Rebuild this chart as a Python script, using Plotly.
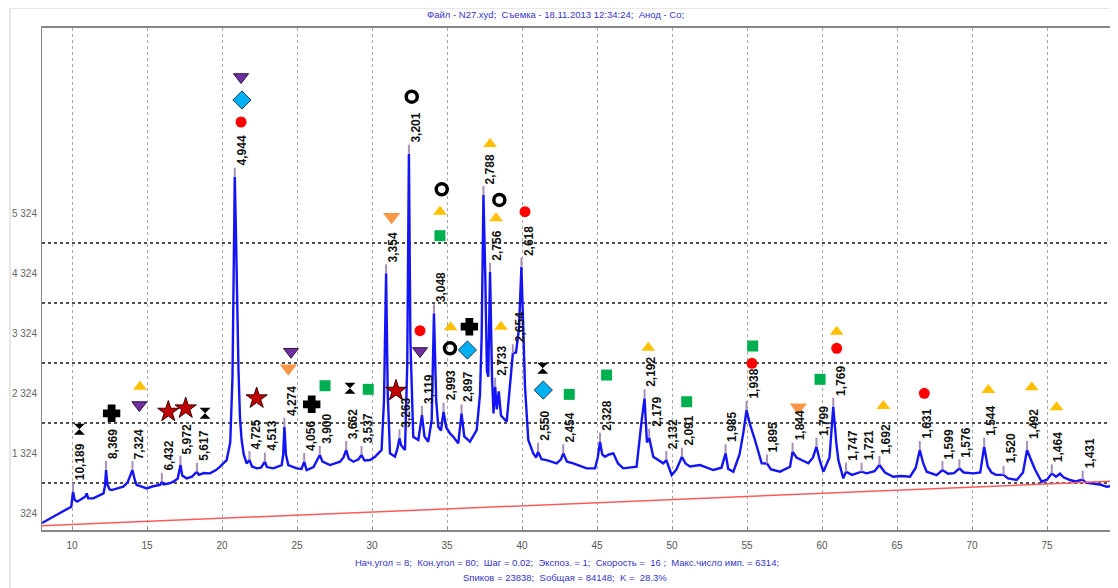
import plotly.graph_objects as go

# ---------------- data ----------------
# blue diffraction curve: background points (2theta, counts)
BASE_2THETA = [8.0, 8.4, 8.8, 9.2, 9.6, 9.95, 10.18, 10.35, 10.7, 10.9, 10.98, 11.08, 11.42, 11.8, 12.1, 12.2,
               12.36, 12.5, 12.64, 13.0, 13.42, 13.7, 13.87, 14.18, 14.31, 14.6, 14.98, 15.4, 15.87,
               16.1, 16.5, 16.76, 17.05, 17.35, 17.64, 18.0, 18.45, 18.8, 19.2, 19.6, 19.87, 20.31, 20.55,
               20.7, 20.8, 20.92, 21.0, 21.1, 21.2, 21.31, 21.45, 21.64, 22.0, 22.31, 22.6, 23.0, 23.42,
               23.98, 24.08, 24.26, 24.42, 24.98, 25.3, 25.64, 26.1, 26.7, 27.2, 27.87, 28.1, 28.45, 28.76,
               29.1, 29.5, 29.87, 30.2, 30.42, 30.64, 30.8, 31.05, 31.2, 31.53, 31.7, 31.95, 32.2, 32.35,
               32.56, 32.75, 33.09, 33.5, 33.75, 33.98, 34.28, 34.42, 34.6, 34.95, 35.2, 35.42, 35.75,
               36.15, 36.53, 36.98, 37.2, 37.31, 37.55, 37.66, 37.75, 38.0, 38.1, 38.32, 38.45, 38.6,
               38.98, 39.2, 39.31, 39.6, 39.8, 40.1, 40.2, 40.42, 40.75, 40.95, 41.3, 41.64, 42.31, 42.6,
               43.0, 43.42, 43.9, 44.31, 44.87, 45.05, 45.35, 45.53, 45.8, 46.09, 46.4, 46.75, 47.2,
               47.64, 47.98, 48.33, 48.75, 49.42, 49.98, 50.3, 50.9, 51.2, 51.87, 52.75, 53.3, 53.75,
               54.09, 54.5, 54.75, 55.2, 55.53, 55.98, 56.6, 57.2, 57.87, 58.3, 58.7, 59.09, 59.4, 59.85,
               60.09, 60.5, 60.95, 61.09, 61.42, 62.0, 62.3, 62.98, 63.5, 64.2, 64.75, 65.3, 65.87, 66.25,
               66.75, 66.98, 67.64, 68.4, 68.8, 69.45, 70.09, 70.55, 71.05, 71.3, 71.6, 72.4, 72.98, 73.4,
               73.95, 74.2, 74.64, 75.0, 75.6, 75.87, 76.1, 76.53, 76.9, 77.6, 78.5, 78.98, 79.5, 79.64, 79.7]
BASE_COUNTS = [157, 215, 270, 324, 380, 429, 540, 513, 560, 600, 650, 570, 569, 610, 652, 780,
               800, 720, 707, 735, 763, 830, 929, 880, 791, 770, 735, 770, 791,
               800, 820, 846, 900, 950, 902, 930, 960, 990, 985, 1040, 1096, 1207, 1500,
               2600, 4800, 5125, 3900, 2700, 1900, 1541, 1300, 1152, 1100, 1069, 1080, 1090, 1069,
               1124, 1300, 1300, 1124, 1069, 1060, 1041, 1090, 1180, 1124, 1179, 1250, 1230, 1179,
               1220, 1200, 1207, 1260, 1319, 1374, 2200, 2300, 1319, 1263, 1400, 1450, 1374, 2800,
               3200, 1596, 1541, 1600, 1513, 1874, 2200, 1763, 1700, 1750, 1650, 1596, 1485,
               1600, 1513, 1707, 2300, 3263, 4300, 2700, 2596, 2600, 1985, 2050, 2350, 1950,
               1846, 2500, 2875, 3000, 3400, 3300, 2430, 1541, 1319, 1250, 1220, 1207, 1152, 1220,
               1180, 1152, 1100, 1069, 1069, 1250, 1300, 1263, 1300, 1319, 1150, 1069, 1080,
               1096, 1874, 1500, 1263, 1152, 957, 1050, 1150, 1100, 1124, 1041, 1080, 1060,
               1013, 1300, 1652, 1800, 1541, 1152, 1050, 1013, 1096, 1250, 1200, 1152, 1250, 1200,
               1013, 1250, 1500, 1207, 902, 960, 980, 985, 1020, 1000, 929, 940, 929, 1080,
               1150, 1013, 957, 980, 990, 1000, 985, 1000, 1100, 1000, 960, 900, 874, 1000,
               1200, 1050, 846, 880, 930, 980, 920, 874, 850, 830, 800, 763, 780, 819, 1260]

# labelled peaks: d-spacing, 2theta, counts
PEAK_D = [10.189, 8.369, 7.324, 6.432, 5.972, 5.617, 4.944, 4.725, 4.513, 4.274, 4.056, 3.900, 3.662,
          3.537, 3.354, 3.263, 3.201, 3.119, 3.048, 2.993, 2.897, 2.788, 2.756, 2.733, 2.654, 2.618,
          2.550, 2.454, 2.328, 2.192, 2.179, 2.132, 2.091, 1.985, 1.938, 1.895, 1.844, 1.799, 1.769,
          1.747, 1.721, 1.692, 1.631, 1.599, 1.576, 1.544, 1.520, 1.492, 1.464, 1.431]
PEAK_2THETA = [10.07, 12.27, 14.03, 15.99, 17.23, 18.33, 20.85, 21.83, 22.86, 24.16, 25.48, 26.52, 28.28,
               29.30, 30.94, 31.83, 32.46, 33.33, 34.13, 34.77, 35.97, 37.43, 37.87, 38.21, 39.39, 39.96,
               41.07, 42.75, 45.20, 48.17, 48.48, 49.62, 50.66, 53.57, 54.97, 56.33, 58.04, 59.63, 60.75,
               61.60, 62.64, 63.83, 66.52, 68.03, 69.16, 70.81, 72.10, 73.67, 75.32, 77.38]
PEAK_COUNTS = [679, 1041, 1041, 846, 1124, 1012, 5930, 1207, 1179, 1763, 1179, 1291, 1374,
               1291, 4320, 1569, 6314, 1958, 3653, 2013, 1985, 5625, 4347, 2430, 2986, 4430,
               1346, 1319, 1513, 2236, 1580, 1207, 1263, 1319, 2041, 1150, 1346, 1430, 2096,
               1013, 1013, 1124, 1374, 1041, 1069, 1430, 960, 1374, 985, 880]

# red background line
BG_2THETA = [8, 80]
BG_COUNTS = [112, 860]

# phase markers
HOURGLASS_X = [10.49, 18.87, 28.53, 41.38]
HOURGLASS_Y = [1719, 1986, 2403, 2736]
CROSS_X = [12.64, 25.98, 36.49]
CROSS_Y = [1986, 2136, 3430]
TRI_UP_X = [14.53, 34.53, 35.24, 37.87, 38.27, 38.6, 48.42, 60.98, 64.09, 71.09, 73.98, 75.64]
TRI_UP_Y = [2430, 5347, 3419, 6475, 5236, 3430, 3080, 3347, 2108, 2374, 2419, 2086]
TRI_DOWN_X = [14.49, 21.27, 24.6, 33.2]
TRI_DOWN_Y = [2124, 7592, 3013, 3025]
STAR_X = [16.42, 17.58, 22.31, 31.6]
STAR_Y = [2013, 2069, 2236, 2363]
DIAMOND_X = [21.33, 36.36, 41.42]
DIAMOND_Y = [7209, 3041, 2374]
CIRCLE_X = [21.27, 33.2, 40.2, 55.33, 60.98, 66.82]
CIRCLE_Y = [6842, 3363, 5347, 2819, 3069, 2319]
TRAP_X = [24.42, 31.31, 58.42]
TRAP_Y = [2736, 5263, 2086]
RING_X = [32.65, 34.65, 35.2, 38.49]
RING_Y = [7264, 5720, 3069, 5542]
SQUARE_X = [26.87, 29.75, 34.53, 43.15, 45.64, 50.98, 55.38, 59.87]
SQUARE_Y = [2446, 2386, 4947, 2302, 2624, 2179, 3108, 2553]

X_TICKS = [10, 15, 20, 25, 30, 35, 40, 45, 50, 55, 60, 65, 70, 75]
Y_TICKS = [324, 1324, 2324, 3324, 4324, 5324]
Y_TICK_TEXT = ["324", "1 324", "2 324", "3 324", "4 324", "5 324"]
Y_GRID = [824, 1824, 2824, 3824, 4824]

TITLE = "Файл - N27.xyd;  Съемка - 18.11.2013 12:34:24;  Анод - Co;"
FOOT1 = "Нач.угол = 8;  Кон.угол = 80;  Шаг = 0.02;  Экспоз. = 1;  Скорость =  16 ;  Макс.число имп. = 6314;"
FOOT2 = "Sпиков = 23838;  Sобщая = 84148;  K =  28.3%"

# ---------------- figure ----------------
pts = sorted(list(zip(BASE_2THETA, BASE_COUNTS)) + list(zip(PEAK_2THETA, PEAK_COUNTS)))
curve_x = [p[0] for p in pts]
curve_y = [p[1] for p in pts]

TICK_LEN = 150  # height of peak tick in counts
fig = go.Figure()
fig.add_trace(go.Scatter(x=curve_x, y=curve_y, mode="lines",
                         line=dict(color="#1414F5", width=2.4), hoverinfo="skip"))
fig.add_trace(go.Scatter(x=PEAK_2THETA, y=PEAK_COUNTS, mode="markers",
                         marker=dict(size=1, color="rgba(0,0,0,0)"),
                         error_y=dict(type="data", symmetric=False, array=[TICK_LEN] * len(PEAK_COUNTS),
                                      arrayminus=[0] * len(PEAK_COUNTS), width=0,
                                      color="#A890B8", thickness=2)))
fig.add_trace(go.Scatter(x=BG_2THETA, y=BG_COUNTS, mode="lines",
                         line=dict(color="#FF5A5A", width=1.5)))

def add_markers(xs, ys, symbol, size, color, line_color=None, line_width=0):
    fig.add_trace(go.Scatter(x=xs, y=ys, mode="markers",
                             marker=dict(symbol=symbol, size=size, color=color,
                                         line=dict(color=line_color or color, width=line_width))))

add_markers(HOURGLASS_X, HOURGLASS_Y, "hourglass", 11, "#000000")
add_markers(CROSS_X, CROSS_Y, "cross", 12, "#000000", "#000000", 3)
add_markers(TRI_UP_X, TRI_UP_Y, "triangle-up", 12, "#FFC000")
add_markers(TRI_DOWN_X, TRI_DOWN_Y, "triangle-down", 13, "#7030A0", "#2A1040", 1)
add_markers(STAR_X, STAR_Y, "star", 16, "#C00000", "#400000", 1)
add_markers(DIAMOND_X, DIAMOND_Y, "diamond", 14, "#00B0F0", "#1F3F5F", 1)
add_markers(CIRCLE_X, CIRCLE_Y, "circle", 11, "#FF0000")
add_markers(TRAP_X, TRAP_Y, "triangle-down", 15, "#F79646")
add_markers(RING_X, RING_Y, "circle-open", 11, "#000000", "#000000", 3.5)
add_markers(SQUARE_X, SQUARE_Y, "square", 11, "#00B050")

for d, x, y in zip(PEAK_D, PEAK_2THETA, PEAK_COUNTS):
    fig.add_annotation(x=x, y=y, text=f"{d:.3f}".replace(".", ","), showarrow=False,
                       textangle=-90, xanchor="center", yanchor="bottom", xshift=7, yshift=9,
                       font=dict(family="Arial", size=12, color="#111111", weight="bold"))

fig.add_annotation(x=0.4768, y=1.0259, xref="paper", yref="paper", text=TITLE, showarrow=False,
                   xanchor="center", yanchor="middle", font=dict(family="Arial", size=9.5, color="#3434C8"))
fig.add_annotation(x=0.488, y=-0.0657, xref="paper", yref="paper", text=FOOT1, showarrow=False,
                   xanchor="center", yanchor="middle", font=dict(family="Arial", size=9.5, color="#3434C8"))
fig.add_annotation(x=0.486, y=-0.0956, xref="paper", yref="paper", text=FOOT2, showarrow=False,
                   xanchor="center", yanchor="middle", font=dict(family="Arial", size=9.5, color="#3434C8"))

fig.add_shape(type="rect", xref="paper", yref="paper", x0=-0.0297, x1=1.05, y0=-0.3, y1=1.0398,
              line=dict(color="#D0D0D0", width=1), layer="below")

# the page body adds an 8px offset; the figure is sized so that the plot area
# lands at x 42..1118, y 28..530 in the 1118x588 window
fig.update_layout(
    width=1110, height=580, showlegend=False,
    margin=dict(l=34, r=0, t=20, b=58, autoexpand=False),
    paper_bgcolor="white", plot_bgcolor="white",
    font=dict(family="Arial"),
    xaxis=dict(range=[8, 79.733], tickmode="array", tickvals=X_TICKS, automargin=False,
               showgrid=True, gridcolor="#A8A8A8", griddash="dot", gridwidth=1,
               ticks="inside", ticklen=4, tickcolor="#999999",
               showline=True, linecolor="#858585", linewidth=2, mirror=True,
               zeroline=False, tickfont=dict(size=10, color="#555555"), ticklabelstandoff=5),
    yaxis=dict(range=[41, 8409], tickmode="array", tickvals=Y_TICKS, ticktext=Y_TICK_TEXT,
               automargin=False,
               showgrid=False, zeroline=False, showline=True, linecolor="#858585", linewidth=1,
               ticks="", tickfont=dict(size=10, color="#666666"), ticklabelstandoff=2,
               minor=dict(tickmode="array", tickvals=Y_GRID, showgrid=True, gridcolor="#505050",
                          griddash="dot", gridwidth=1.5, ticks="")),
)

fig.write_html("out.html")
